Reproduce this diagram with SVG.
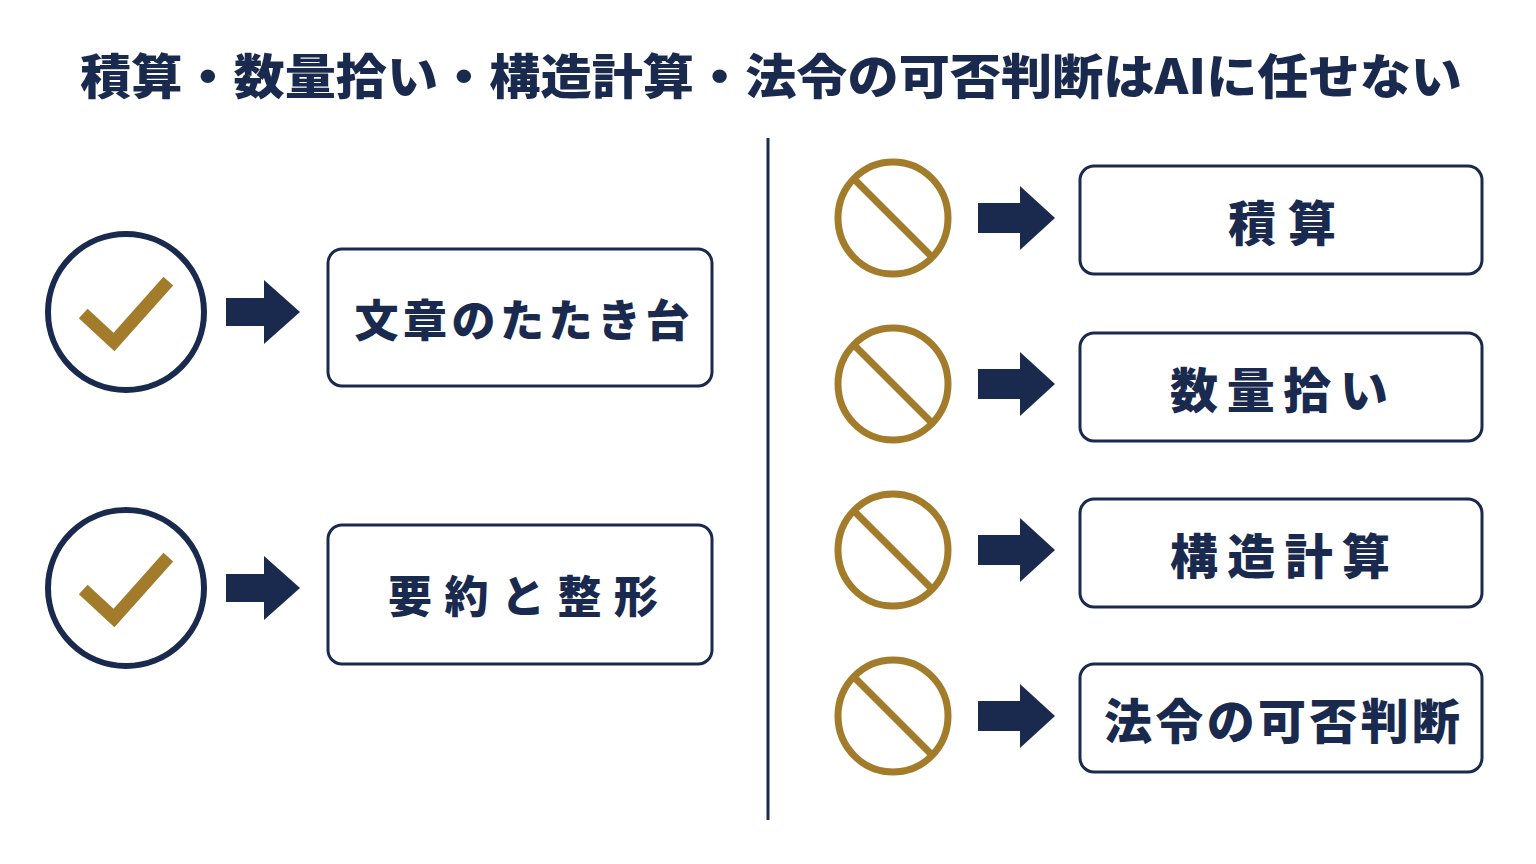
<svg xmlns="http://www.w3.org/2000/svg" width="1536" height="864" viewBox="0 0 1536 864">
<style>
.t{font-family:"Noto Sans CJK JP","Noto Sans",sans-serif;font-weight:900;fill:#1a2a4f;text-anchor:middle;dominant-baseline:central}
.box{fill:#fff;stroke:#1a2a4f;stroke-width:3}
.ok{fill:none;stroke:#1a2a4f;stroke-width:6}
.chk{fill:none;stroke:#a27c2a;stroke-width:13;stroke-linecap:square}
.no{fill:none;stroke:#a27c2a;stroke-width:7}
.arr{fill:#1a2a4f}
</style>
<rect width="1536" height="864" fill="#fff"/>
<text class="t" x="771" y="73" font-size="48" textLength="1382" lengthAdjust="spacingAndGlyphs">積算・数量拾い・構造計算・法令の可否判断はAIに任せない</text>
<line x1="768" y1="138" x2="768" y2="820" stroke="#1a2a4f" stroke-width="3"/>
<g id="connectors">
<path class="arr" d="M226,298 H264 V280 L300,312 L264,344 V326 H226 Z"/>
<path class="arr" d="M226,574 H264 V556 L300,588 L264,620 V602 H226 Z"/>
<path class="arr" d="M978,203 H1020 V186 L1055,218 L1020,250 V233 H978 Z"/>
<path class="arr" d="M978,369 H1020 V352 L1055,384 L1020,416 V399 H978 Z"/>
<path class="arr" d="M978,535 H1020 V518 L1055,550 L1020,582 V565 H978 Z"/>
<path class="arr" d="M978,701 H1020 V684 L1055,716 L1020,748 V731 H978 Z"/>
</g>
<g id="ok1"><circle class="ok" cx="126" cy="312" r="78"/><path class="chk" d="M88,318 L114,342 L164,286"/></g>
<g id="ok2"><circle class="ok" cx="126" cy="588" r="78"/><path class="chk" d="M88,594 L114,618 L164,562"/></g>
<g id="n1"><rect class="box" x="328" y="249" width="384" height="137" rx="14"/><text class="t" x="522" y="318" font-size="44" textLength="335">文章のたたき台</text></g>
<g id="n2"><rect class="box" x="328" y="525" width="384" height="139" rx="14"/><text class="t" x="523" y="594" font-size="44" textLength="270">要約と整形</text></g>
<g id="no1"><ellipse class="no" cx="893" cy="218" rx="55" ry="56"/><line class="no" x1="854" y1="179" x2="932" y2="257"/></g>
<g id="no2"><ellipse class="no" cx="893" cy="384" rx="55" ry="56"/><line class="no" x1="854" y1="345" x2="932" y2="423"/></g>
<g id="no3"><ellipse class="no" cx="893" cy="550" rx="55" ry="56"/><line class="no" x1="854" y1="511" x2="932" y2="589"/></g>
<g id="no4"><ellipse class="no" cx="893" cy="716" rx="55" ry="56"/><line class="no" x1="854" y1="677" x2="932" y2="755"/></g>
<g id="r1"><rect class="box" x="1080" y="166" width="402" height="108" rx="14"/><text class="t" x="1282" y="220" font-size="48" textLength="108">積算</text></g>
<g id="r2"><rect class="box" x="1080" y="333" width="402" height="108" rx="14"/><text class="t" x="1279" y="387" font-size="48" textLength="218">数量拾い</text></g>
<g id="r3"><rect class="box" x="1080" y="499" width="402" height="108" rx="14"/><text class="t" x="1280" y="553" font-size="48" textLength="220">構造計算</text></g>
<g id="r4"><rect class="box" x="1080" y="664" width="402" height="108" rx="14"/><text class="t" x="1282" y="718" font-size="48" textLength="356">法令の可否判断</text></g>
</svg>
